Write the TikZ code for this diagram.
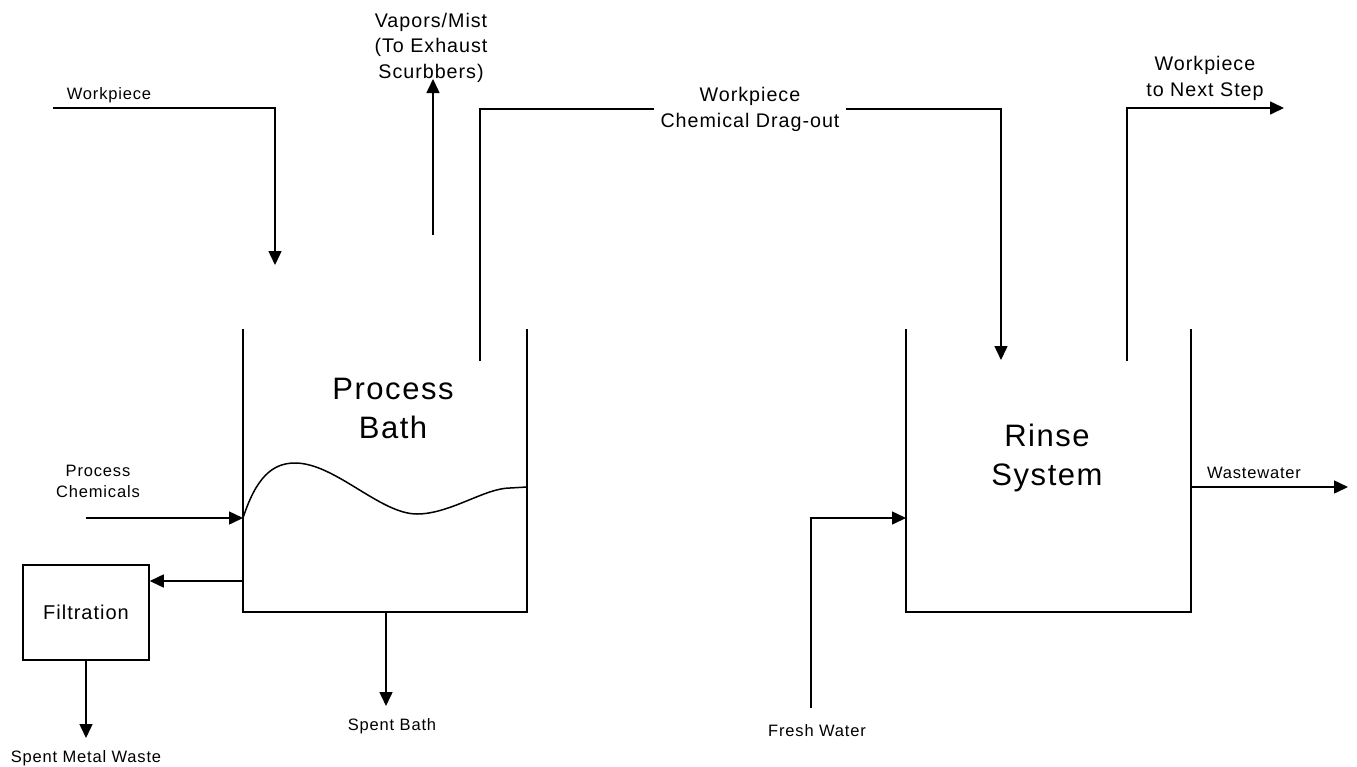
\documentclass[tikz,border=0pt]{standalone}
\usepackage{fontspec}
\setmainfont{Liberation Sans}[LetterSpace=5]
\usetikzlibrary{arrows.meta}

\begin{document}
\begin{tikzpicture}[
    x=1pt, y=-1pt,
    line width=1.5pt,
    every node/.style={inner sep=0pt, align=center},
    small/.style={font=\fontsize{16.5}{21}\selectfont},
    medium/.style={font=\fontsize{19.7}{25.5}\selectfont},
    big/.style={font=\fontsize{31}{39}\selectfont},
    flow/.style={-{Triangle[length=14pt, width=13pt]}}
]

    \useasboundingbox (0,0) rectangle (1357,766);

    % ---- Process Bath ----
    \draw (243,329) |- (527,612) -- (527,329);
    \draw (243,518) .. controls (256,478) and (272,463) .. (295,463)
        .. controls (335,463) and (380,514) .. (417,514)
        .. controls (450,514) and (485,488) .. (510,488) -- (527,487);
    \node[big, anchor=base] (bath) at (393,438) {Process\\Bath};

    % ---- Rinse System ----
    \draw (906,329) |- (1191,612) -- (1191,329);
    \node[big, anchor=base] (rinse) at (1047,485) {Rinse\\System};

    % ---- Filtration ----
    \node[draw, minimum width=126pt, minimum height=95pt, font=\fontsize{20}{24}\selectfont] (filt) at (86,612.5) {Filtration};

    % ---- Labels ----
    \node[small, anchor=base] (wp) at (109,99) {Workpiece};
    \node[medium, anchor=base] (vap) at (431,78) {Vapors/Mist\\(To Exhaust\\Scurbbers)};
    \node[medium, anchor=base, inner xsep=6pt] (drag) at (750,127) {Workpiece\\Chemical Drag-out};
    \node[medium, anchor=base] (next) at (1205,96) {Workpiece\\to Next Step};
    \node[small, anchor=base] (chem) at (98,497) {Process\\Chemicals};
    \node[small, anchor=base] (metal) at (86,762) {Spent Metal Waste};
    \node[small, anchor=base] (spent) at (392,730) {Spent Bath};
    \node[small, anchor=base] (fresh) at (817,736) {Fresh Water};
    \node[small, anchor=base] (waste) at (1254,478) {Wastewater};

    % ---- Connection points ----
    \coordinate (wpin) at (53,108);
    \coordinate (bathtop) at (275,265);
    \coordinate (vapout) at (433,235);
    \coordinate (vapend) at (433,79);
    \coordinate (bathout) at (480,361);
    \coordinate (rinsetop) at (1001,360);
    \coordinate (rinseout) at (1127,361);
    \coordinate (nextend) at (1284,108);
    \coordinate (chemin) at (86,518);
    \coordinate (bathleft) at (243,518);
    \coordinate (filtout) at (243,581);
    \coordinate (metalend) at (86,738);
    \coordinate (drain) at (386,612);
    \coordinate (drainend) at (386,706);
    \coordinate (freshin) at (811,708);
    \coordinate (rinseleft) at (906,518);
    \coordinate (rinseright) at (1191,487);
    \coordinate (wasteend) at (1348,487);

    % ---- Flows ----
    \draw[flow] (wpin) -| (bathtop);
    \draw[flow] (vapout) -- (vapend);
    \draw (bathout) |- (drag.west);
    \draw[flow] (drag.east) -| (rinsetop);
    \draw[flow] (rinseout) |- (nextend);
    \draw[flow] (chemin) -- (bathleft);
    \draw[flow] (filtout) -- (filtout -| filt.east);
    \draw[flow] (filt.south) -- (metalend);
    \draw[flow] (drain) -- (drainend);
    \draw[flow] (freshin) |- (rinseleft);
    \draw[flow] (rinseright) -- (wasteend);

\end{tikzpicture}
\end{document}
